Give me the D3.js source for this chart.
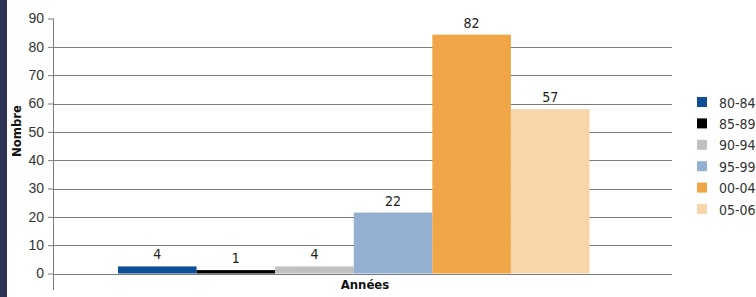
<!DOCTYPE html>
<html>
<head>
<meta charset="utf-8">
<script src="https://cdn.jsdelivr.net/npm/d3@7"></script>
<style>
  body { margin: 0; background: #fff; }
  svg { display: block; font-family: "Liberation Sans Narrow", "DejaVu Sans Condensed", "Open Sans", sans-serif; font-stretch: condensed; }
  .tick text { fill: #333; font-size: 14px; }
</style>
</head>
<body>
<div class="chart"></div>
<script>
// periodes (series) and their counts, as printed above the bars
var periods = ["80-84", "85-89", "90-94", "95-99", "00-04", "05-06"]
var counts = [4, 1, 4, 22, 82, 57]
// bar heights as drawn in the picture (they do not quite match the printed counts)
var barHeights = [2.5, 1.2, 2.5, 21.5, 84.3, 58]
var colors = ["#0d4f97", "#000000", "#c0c0c0", "#93b0d1", "#f0a646", "#f8d5aa"]
var yTicks = [0, 10, 20, 30, 40, 50, 60, 70, 80, 90]

var width = 756, height = 297

var svg = d3.select(".chart").append("svg")
    .attr("width", width)
    .attr("height", height)

// dark frame on the left
svg.append("rect").attr("x", 0).attr("y", 0).attr("width", 7).attr("height", height).attr("fill", "#2c3251")

var y = d3.scaleLinear().domain([0, 90]).range([273.5, 18.5])
var x = d3.scaleBand().domain(periods).range([118, 589.5]).padding(0)
var axisX = 53, gridEnd = 672

// gridlines (none at 90)
svg.append("g")
  .selectAll("line")
  .data(yTicks.filter(function(d) { return d < 90 }))
  .enter().append("line")
    .attr("x1", axisX).attr("x2", gridEnd)
    .attr("y1", function(d) { return Math.round(y(d)) + 0.5 })
    .attr("y2", function(d) { return Math.round(y(d)) + 0.5 })
    .attr("stroke", "#7a7a7a")
    .attr("stroke-width", 1)

// y axis
var yAxis = svg.append("g")
    .attr("transform", "translate(" + axisX + ",0)")
    .call(d3.axisLeft(y).tickValues(yTicks).tickSize(5).tickPadding(4))
yAxis.select(".domain").remove()
yAxis.selectAll(".tick line").attr("stroke", "#7a7a7a")
yAxis.append("line")
    .attr("x1", 0.5).attr("x2", 0.5)
    .attr("y1", y(90)).attr("y2", 290)
    .attr("stroke", "#7a7a7a")

// bars
svg.append("g")
  .selectAll("rect")
  .data(periods)
  .enter().append("rect")
    .attr("x", function(d) { return x(d) })
    .attr("width", x.bandwidth())
    .attr("y", function(d, i) { return y(barHeights[i]) })
    .attr("height", function(d, i) { return y(0) - y(barHeights[i]) })
    .attr("fill", function(d, i) { return colors[i] })

// value labels
svg.append("g")
  .selectAll("text")
  .data(periods)
  .enter().append("text")
    .attr("x", function(d) { return x(d) + x.bandwidth() / 2 })
    .attr("y", function(d, i) { return y(barHeights[i]) - 7 })
    .attr("text-anchor", "middle")
    .attr("font-size", 14)
    .attr("fill", "#222")
    .text(function(d, i) { return counts[i] })

// axis titles
svg.append("text")
    .attr("x", 365).attr("y", 289)
    .attr("text-anchor", "middle")
    .attr("font-size", 13)
    .attr("font-weight", "bold")
    .attr("fill", "#111")
    .text("Années")

svg.append("text")
    .attr("transform", "translate(21,131) rotate(-90)")
    .attr("text-anchor", "middle")
    .attr("font-size", 13)
    .attr("font-weight", "bold")
    .attr("fill", "#111")
    .text("Nombre")

// legend
var legend = svg.append("g")
  .selectAll("g")
  .data(periods)
  .enter().append("g")
    .attr("transform", function(d, i) { return "translate(697," + (97 + i * 21.4) + ")" })
legend.append("rect")
    .attr("width", 10).attr("height", 10)
    .attr("fill", function(d, i) { return colors[i] })
legend.append("text")
    .attr("x", 22).attr("y", 10.5)
    .attr("font-size", 14)
    .attr("fill", "#333")
    .text(function(d) { return d })
</script>
</body>
</html>
